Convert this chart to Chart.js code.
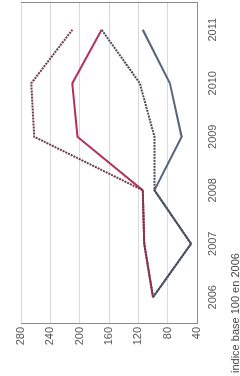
<!DOCTYPE html>
<html>
<head>
<meta charset="utf-8">
<script src="https://cdn.jsdelivr.net/npm/chart.js@4.4.1/dist/chart.umd.min.js"></script>
<style>
  html, body { margin: 0; padding: 0; background: #fff; overflow: hidden; }
  #page { width: 240px; height: 376px; position: relative; overflow: hidden; }
  /* the printed chart is turned a quarter turn, so the whole box is rotated */
  #turned {
    position: absolute; left: 0; top: 0;
    width: 376px; height: 240px;
    transform-origin: 0 0;
    transform: translateY(376px) rotate(-90deg);
  }
  #caption {
    position: absolute; left: 3px; top: 230px;
    font: 11px "Liberation Sans", Arial, sans-serif; color: #444;
    white-space: nowrap; line-height: 11px;
  }
</style>
</head>
<body>
<div id="page">
  <div id="turned">
    <canvas id="chart" width="376" height="240"></canvas>
    <div id="caption">indice base 100 en 2006</div>
  </div>
</div>
<script>
const years = ['2006', '2007', '2008', '2009', '2010', '2011'];
const redSolid = [100, 112, 114, 203, 210, 170];
const redDotted = [100, 112, 114, 262, 266, 210];
const slateSolid = [100, 48, 98, 61, 77, 114];
const slateDotted = [100, 48, 98, 98, 118, 170];
const valueTicks = [40, 80, 120, 160, 200, 240, 280];

const font = { family: '"Liberation Sans", Arial, sans-serif', size: 11 };

function line(data, color, dash, width) {
  return {
    data: data,
    borderColor: color,
    borderWidth: width,
    borderDash: dash,
    pointRadius: 0,
    tension: 0,
    fill: false
  };
}

const ctx = document.getElementById('chart').getContext('2d');
new Chart(ctx, {
  type: 'line',
  data: {
    labels: years,
    datasets: [
      line(slateDotted, '#474c58', [2, 1], 2),
      line(slateSolid, '#56657a', [], 2),
      line(redDotted, '#6e3a4c', [2, 1], 2),
      line(redSolid, '#b0325e', [], 2)
    ]
  },
  options: {
    responsive: false,
    animation: false,
    plugins: { legend: { display: false }, tooltip: { enabled: false } },
    layout: { padding: { top: 21, right: 3, left: 0, bottom: 0 } },
    scales: {
      x: {
        offset: true,
        grid: { display: false, drawTicks: false },
        border: { display: true, color: '#8a8a8a', width: 1 },
        ticks: { font: font, color: '#555', padding: 9, maxRotation: 0 },
        afterFit: s => { s.height = 43; }
      },
      y: {
        min: 40,
        max: 280,
        afterBuildTicks: s => { s.ticks = valueTicks.map(v => ({ value: v })); },
        grid: { color: '#dadada', drawTicks: false },
        border: { display: true, color: '#8a8a8a', width: 1 },
        ticks: { font: font, color: '#555', padding: 3 },
        afterFit: s => { s.width = 52; }
      },
      y2: {
        position: 'right',
        display: true,
        grid: { display: false, drawTicks: false },
        border: { display: true, color: '#8a8a8a', width: 1 },
        ticks: { display: false },
        afterFit: s => { s.width = 0; }
      }
    }
  }
});
</script>
</body>
</html>
